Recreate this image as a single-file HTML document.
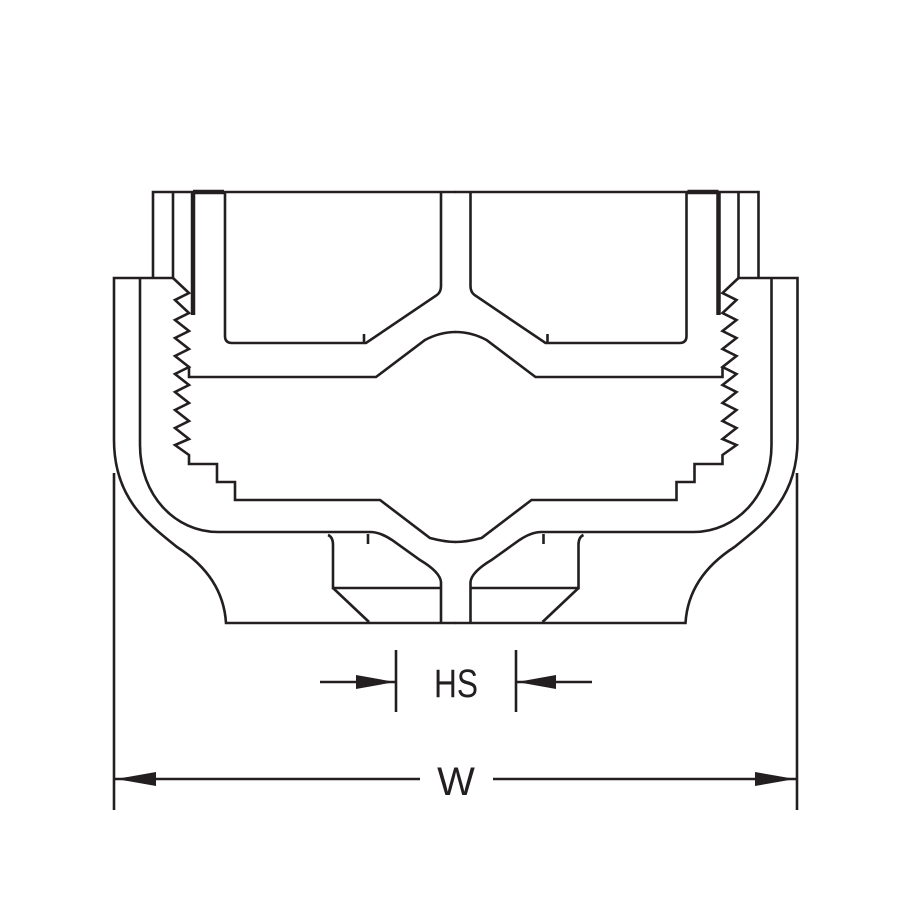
<!DOCTYPE html>
<html><head><style>html,body{margin:0;padding:0;background:#fff}svg{display:block}</style></head>
<body>
<svg width="900" height="900" viewBox="0 0 900 900" xmlns="http://www.w3.org/2000/svg">
<defs>
<g id="half" fill="none" stroke="#231f20" stroke-width="2.6" stroke-linejoin="miter">
  <!-- top -->
  <path d="M153,278 V192 H456"/>
  <path d="M173,278 V192"/>
  <path d="M193,193 V315" stroke-width="4.5"/>
  <path d="M193,192 H224" stroke-width="4.5"/>
  <!-- inner cup -->
  <path d="M225,192 V336 Q225,343 232,343 H366 L437,295 Q441,292 441,286 V192"/>
  <path d="M364,343 V334"/>
  <!-- outer body -->
  <path d="M173,278 H114 V440 C114,500 150,525 177,547 C205,565 224,590 226,623 H456"/>
  <path d="M140,278 V445 C140,495 175,532 218,532 H370 Q380,532 392,540 L420,560 Q440,572 441,582 V622"/>
  <path d="M368,534 V544"/>
  <!-- threads -->
  <path d="M173,278 L189,293 L175,300 L189,313 L175,320 L189,331 L175,338 L189,349 L175,356 L189,367 L175,374 L189,385 L175,392 L189,403 L175,410 L189,421 L175,428 L189,439 L175,445 L189,455 V464 H217 V482 H235 V500 H380 L430,538 Q445,542 456,542"/>
  <path d="M189,367 V377 H376 L425,340 Q440,332 456,332"/>
  <!-- bottom pocket -->
  <path d="M328,535 Q333,537 333,545 V588 H441"/>
  <path d="M333,588 L369,622"/>
</g>
</defs>
<use href="#half"/>
<use href="#half" transform="translate(911.5,0) scale(-1,1)"/>
<g stroke="#231f20" stroke-width="2.6" fill="#231f20">
  <line x1="114" y1="473" x2="114" y2="810"/>
  <line x1="797" y1="473" x2="797" y2="810"/>
  <line x1="114" y1="779" x2="420" y2="779"/>
  <line x1="493" y1="779" x2="797" y2="779"/>
  <polygon points="116,779 156,772 156,786" stroke="none"/>
  <polygon points="795,779 755,772 755,786" stroke="none"/>
  <line x1="396" y1="650" x2="396" y2="712"/>
  <line x1="516" y1="650" x2="516" y2="712"/>
  <line x1="320" y1="682" x2="396" y2="682"/>
  <line x1="516" y1="682" x2="592" y2="682"/>
  <polygon points="395,682 356,675 356,689" stroke="none"/>
  <polygon points="517,682 556,675 556,689" stroke="none"/>
</g>
<text x="456" y="697" font-family="Liberation Sans, sans-serif" font-size="40" text-anchor="middle" fill="#231f20" textLength="44" lengthAdjust="spacingAndGlyphs">HS</text>
<text x="456" y="795" font-family="Liberation Sans, sans-serif" font-size="40" text-anchor="middle" fill="#231f20">W</text>
</svg>
</body></html>
